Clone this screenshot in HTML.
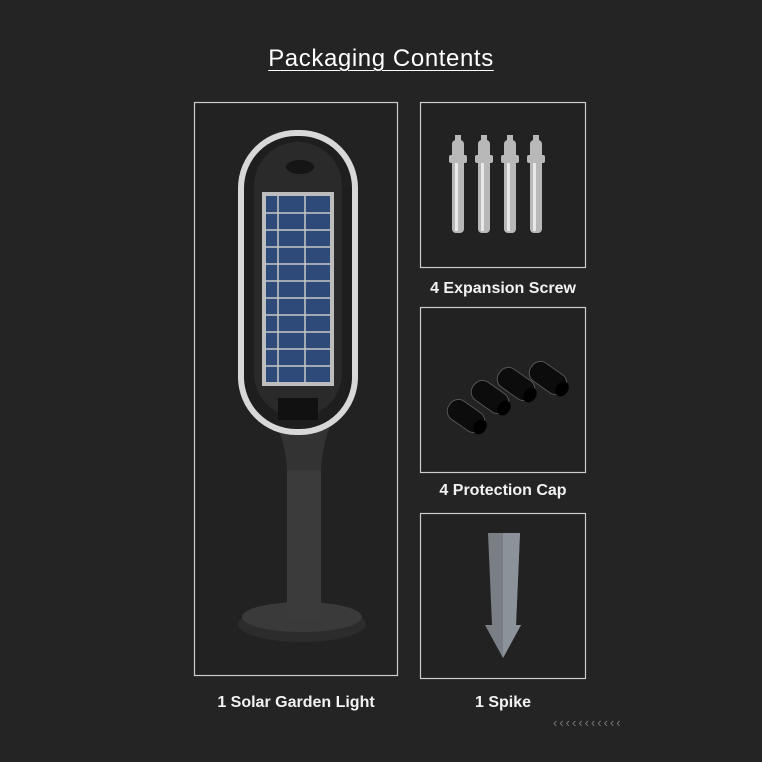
<!DOCTYPE html>
<html><head><style>
html,body{margin:0;padding:0;background:#242424;}
body{width:762px;height:762px;position:relative;overflow:hidden;font-family:"Liberation Sans",sans-serif;}
.t{position:absolute;color:#f2f2f2;font-weight:bold;font-size:16px;text-align:center;}
</style></head><body>
<div style="position:absolute;left:0;top:45px;width:762px;text-align:center;color:#fff;font-size:24px;letter-spacing:0.6px;"><span style="text-decoration:underline;text-underline-offset:4px;text-decoration-thickness:1px;">Packaging Contents</span></div>
<svg width="762" height="762" style="position:absolute;left:0;top:0">
<g fill="#222" stroke="#ccc" stroke-width="1.2">
<rect x="194.5" y="102.5" width="203" height="573"/>
<rect x="420.5" y="102.5" width="165" height="165"/>
<rect x="420.5" y="307.5" width="165" height="165"/>
<rect x="420.5" y="513.5" width="165" height="165"/>
</g>
<!-- lamp -->
<ellipse cx="302" cy="624" rx="64" ry="18" fill="#2c2c2c"/>
<ellipse cx="302" cy="617" rx="60" ry="15" fill="#3a3a3a"/>
<rect x="287" y="430" width="34" height="190" fill="#3b3b3b"/>
<path d="M262 400 Q285 430 287 470 L321 470 Q323 430 344 400 Z" fill="#333"/>
<rect x="238" y="130" width="120" height="305" rx="58" fill="#d8d8d8"/>
<rect x="244" y="136" width="108" height="293" rx="52" fill="#1e1e1e"/>
<rect x="254" y="142" width="88" height="275" rx="44" fill="#2a2a2a"/>
<rect x="262" y="192" width="72" height="194" fill="#bdbdbd"/>
<rect x="266" y="196" width="64" height="186" fill="#2e4a78"/>
<g stroke="#c8c8c8" stroke-width="1.5">
<line x1="278" y1="196" x2="278" y2="382"/><line x1="305" y1="196" x2="305" y2="382"/>
<line x1="266" y1="213" x2="330" y2="213"/><line x1="266" y1="230" x2="330" y2="230"/><line x1="266" y1="247" x2="330" y2="247"/><line x1="266" y1="264" x2="330" y2="264"/><line x1="266" y1="281" x2="330" y2="281"/><line x1="266" y1="298" x2="330" y2="298"/><line x1="266" y1="315" x2="330" y2="315"/><line x1="266" y1="332" x2="330" y2="332"/><line x1="266" y1="349" x2="330" y2="349"/><line x1="266" y1="366" x2="330" y2="366"/>
</g>
<rect x="278" y="398" width="40" height="22" fill="#111"/>
<ellipse cx="300" cy="167" rx="14" ry="7" fill="#151515"/>
<!-- screws -->
<g fill="#b8b8b8">
<rect x="452" y="140" width="12" height="93" rx="4"/><rect x="478" y="140" width="12" height="93" rx="4"/><rect x="504" y="140" width="12" height="93" rx="4"/><rect x="530" y="140" width="12" height="93" rx="4"/>
<rect x="449" y="155" width="18" height="8" rx="2"/><rect x="475" y="155" width="18" height="8" rx="2"/><rect x="501" y="155" width="18" height="8" rx="2"/><rect x="527" y="155" width="18" height="8" rx="2"/>
<rect x="455" y="135" width="6" height="10"/><rect x="481" y="135" width="6" height="10"/><rect x="507" y="135" width="6" height="10"/><rect x="533" y="135" width="6" height="10"/>
</g>
<g fill="#e8e8e8">
<rect x="455" y="163" width="3" height="68"/><rect x="481" y="163" width="3" height="68"/><rect x="507" y="163" width="3" height="68"/><rect x="533" y="163" width="3" height="68"/>
</g>
<!-- caps -->
<g fill="#0c0c0c" stroke="#555" stroke-width="1">
<rect x="446" y="405" width="40" height="22" rx="10" transform="rotate(35 466 416)"/>
<rect x="470" y="386" width="40" height="22" rx="10" transform="rotate(35 490 397)"/>
<rect x="496" y="373" width="40" height="22" rx="10" transform="rotate(35 516 384)"/>
<rect x="528" y="367" width="40" height="22" rx="10" transform="rotate(35 548 378)"/>
</g>
<g fill="#000">
<ellipse cx="480" cy="427" rx="6" ry="8" transform="rotate(35 480 427)"/>
<ellipse cx="504" cy="408" rx="6" ry="8" transform="rotate(35 504 408)"/>
<ellipse cx="530" cy="395" rx="6" ry="8" transform="rotate(35 530 395)"/>
<ellipse cx="562" cy="389" rx="6" ry="8" transform="rotate(35 562 389)"/>
</g>
<!-- spike -->
<path d="M488 533 L520 533 L516 625 L521 625 L503 658 L485 625 L492 625 Z" fill="#7a7f86"/>
<path d="M503 533 L520 533 L516 625 L521 625 L503 658 Z" fill="#8c9299"/>
<text x="553" y="727" fill="#777" font-size="13" font-family="Liberation Sans" letter-spacing="2">‹‹‹‹‹‹‹‹‹‹‹</text>
</svg>
<div class="t" style="left:420px;top:280px;width:166px;">4 Expansion Screw</div>
<div class="t" style="left:420px;top:482px;width:166px;">4 Protection Cap</div>
<div class="t" style="left:194px;top:694px;width:204px;">1 Solar Garden Light</div>
<div class="t" style="left:420px;top:694px;width:166px;">1 Spike</div>
</body></html>
